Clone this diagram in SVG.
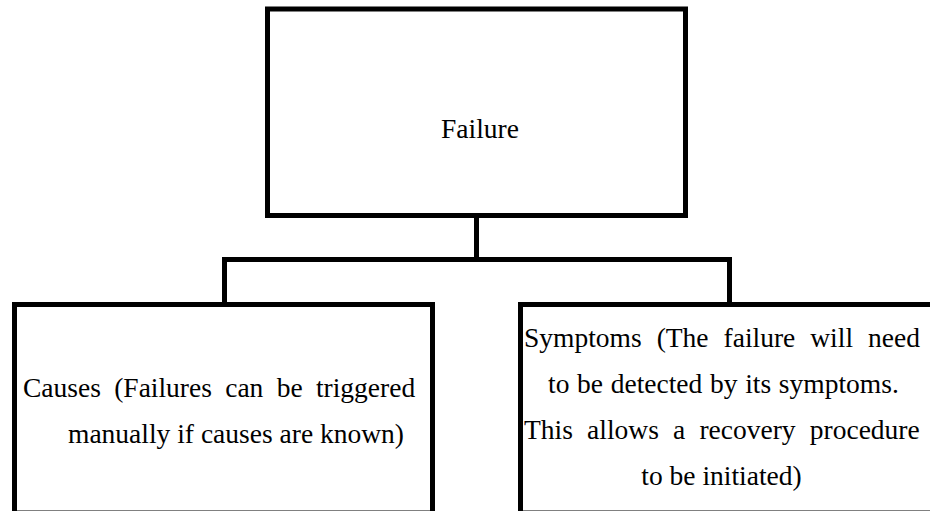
<svg xmlns="http://www.w3.org/2000/svg" width="930" height="511" viewBox="0 0 930 511">
  <style>
    .box { fill: #ffffff; stroke: #000000; stroke-width: 5; }
    .wire { fill: none; stroke: #000000; stroke-width: 5; stroke-linejoin: miter; }
    .label { font-family: "Liberation Serif", "Times New Roman", serif; font-size: 27.5px; fill: #000000; }
    .mid { text-anchor: middle; }
  </style>
  <rect width="930" height="511" fill="#ffffff"/>

  <!-- tree connectors -->
  <g id="connectors">
    <path class="wire" d="M476.5 217 V259.5"/>
    <path class="wire" d="M224.5 305 V259.5 H729.5 V305"/>
  </g>

  <g id="failure">
    <rect class="box" x="267.5" y="9" width="418" height="206.5"/>
    <text class="label mid" x="480" y="138">Failure</text>
  </g>

  <!-- justified lines: word-spacing stretches each full line to the column width -->
  <g id="causes">
    <rect class="box" x="14.5" y="304.5" width="418" height="208.5"/>
    <text class="label" x="23" y="397" word-spacing="6.4">Causes (Failures can be triggered</text>
    <text class="label" x="68" y="443">manually if causes are known)</text>
  </g>

  <g id="symptoms">
    <rect class="box" x="520.5" y="304.5" width="420" height="208.5"/>
    <text class="label" x="524" y="347" word-spacing="8.1">Symptoms (The failure will need</text>
    <text class="label" x="548" y="393" word-spacing="0.8">to be detected by its symptoms.</text>
    <text class="label" x="524" y="439" word-spacing="7.3">This allows a recovery procedure</text>
    <text class="label mid" x="721.5" y="485">to be initiated)</text>
  </g>
</svg>
